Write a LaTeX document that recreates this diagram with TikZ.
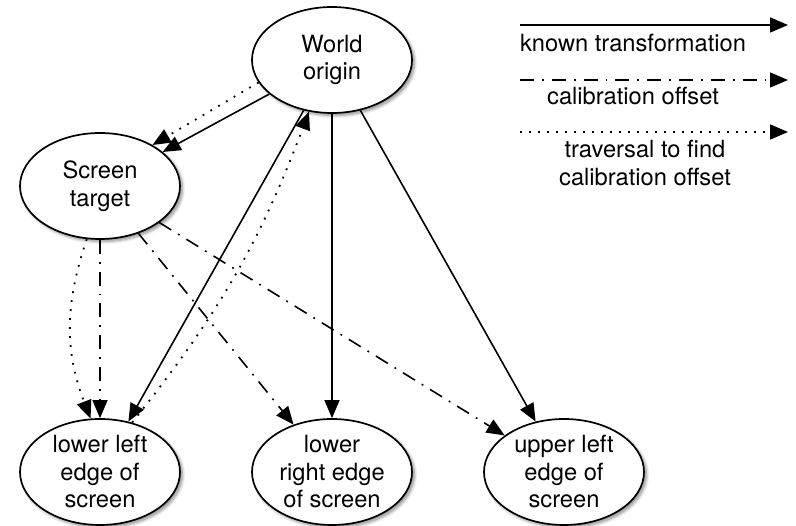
\documentclass[tikz,border=0pt]{standalone}
\usepackage{fontspec}
\setmainfont{TeX Gyre Heros}
\usetikzlibrary{arrows.meta,shapes.geometric,shadows.blur}
\begin{document}
\begin{tikzpicture}[x=1pt,y=-1pt,
  ell/.style={ellipse, draw, line width=1.7pt, fill=white, minimum width=160pt, minimum height=106pt, inner sep=0pt,
    blur shadow={shadow xshift=2.5pt, shadow yshift=-2.5pt, shadow blur steps=6, shadow opacity=45, shadow blur radius=3pt}},
  lbl/.style={align=center, font=\fontsize{23.7}{27.5}\selectfont, inner sep=0pt},
  tip/.style={-{Triangle[length=18pt,width=15pt]}},
  known/.style={tip, line width=1.6pt},
  calib/.style={tip, line width=1.6pt, dash pattern=on 14pt off 8pt on 1.8pt off 8pt},
  trav/.style={tip, line width=1.8pt, dash pattern=on 1.8pt off 7.2pt},
]
\useasboundingbox (0,0) rectangle (796,526);
% nodes
\node[ell] (W) at (332,60) {};
\node[lbl] (Wt) at (W) {World\\origin};
\node[ell] (S) at (100,186) {};
\node[lbl] (St) at (S) {Screen\\target};
\node[ell] (LL) at (100,472) {};
\node[lbl] (LLt) at (LL) {lower left\\edge of\\screen};
\node[ell] (LR) at (332,472) {};
\node[lbl] (LRt) at (LR) {lower\\right edge\\of screen};
\node[ell] (UL) at (564,472) {};
\node[lbl] (ULt) at (UL) {upper left\\edge of\\screen};
% edges
\draw[known] (W) -- (S);
\draw[trav] (W.197) -- (S.38);
\draw[known] (W) -- (LR);
\draw[known] (W) -- (UL);
\draw[known] (W) -- (LL);
\draw[trav] (LL.57) to[bend right=9] (W.246);
\draw[calib] (S) -- (LL);
\draw[trav] (S.256) to[bend right=20] (LL.100);
\draw[calib] (S) -- (LR);
\draw[calib] (S) -- (UL);
% legend
\coordinate (k1) at (520,25); \coordinate (k2) at (788,25);
\draw[known] (k1) -- (k2);
\node[lbl] (kt) at (633,43) {known transformation};
\coordinate (c1) at (520,80); \coordinate (c2) at (788,80);
\draw[calib] (c1) -- (c2);
\node[lbl] (ct) at (633,96) {calibration offset};
\coordinate (t1) at (520,132); \coordinate (t2) at (788,132);
\draw[trav] (t1) -- (t2);
\node[lbl] (tt) at (645,163) {traversal to find\\calibration offset};
\end{tikzpicture}
\end{document}
